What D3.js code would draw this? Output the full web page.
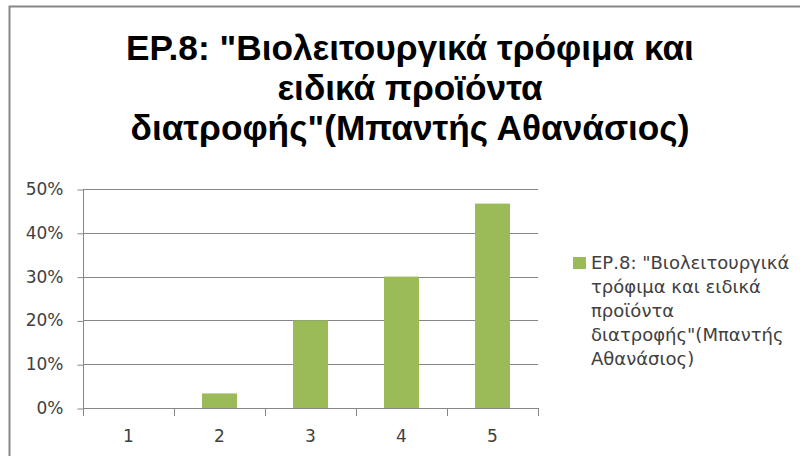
<!DOCTYPE html>
<html><head><meta charset="utf-8">
<script src="https://cdn.jsdelivr.net/npm/d3@7"></script>
<style>body{margin:0;background:#fff}svg{display:block}</style>
</head><body>
<svg id="c" width="800" height="456"></svg>
<script>
const titleLines = ['ΕΡ.8: "Βιολειτουργικά τρόφιμα και', 'ειδικά προϊόντα', 'διατροφής"(Μπαντής Αθανάσιος)'];
const categories = ["1", "2", "3", "4", "5"];
const values = [0, 0.0333, 0.20, 0.30, 0.4667];
const yTicks = [0, 0.1, 0.2, 0.3, 0.4, 0.5];
const legendLines = ['ΕΡ.8: "Βιολειτουργικά', 'τρόφιμα και ειδικά', 'προϊόντα', 'διατροφής"(Μπαντής', 'Αθανάσιος)'];

const svg = d3.select("#c");
const gray = "#868686", green = "#9BBB59";
const labelFont = "DejaVu Sans, sans-serif";

// frame
svg.append("path").attr("d", "M9.5,470V6.5H810").attr("fill", "none").attr("stroke", gray).attr("stroke-width", 2);

// title (font size fitted so the first line spans the reference width)
const title = svg.append("g").selectAll("text").data(titleLines).join("text")
  .attr("x", 410).attr("y", (d, i) => 60 + i * 40)
  .attr("text-anchor", "middle")
  .attr("font-family", "Liberation Sans, Arial, sans-serif").attr("font-weight", "bold")
  .attr("font-size", 30).attr("fill", "#000").text(d => d);
const w0 = title.node().getComputedTextLength();
if (w0 > 0) title.attr("font-size", Math.min(36, 30 * 568 / w0));

const x = d3.scaleBand().domain(categories).range([83, 538]).paddingInner(0.615).paddingOuter(0.3075);
const xb = d3.scaleBand().domain(categories).range([83, 538]);
const y = d3.scaleLinear().domain([0, 0.5]).range([408, 189]);

// gridlines
svg.append("g").selectAll("line").data(yTicks.slice(1)).join("line")
  .attr("x1", 83).attr("x2", 538).attr("y1", d => Math.round(y(d)) + 0.5).attr("y2", d => Math.round(y(d)) + 0.5)
  .attr("stroke", gray).attr("stroke-width", 1);

// bars
svg.append("g").selectAll("rect").data(values).join("rect")
  .attr("x", (d, i) => x(categories[i])).attr("width", x.bandwidth())
  .attr("y", d => y(d)).attr("height", d => y(0) - y(d))
  .attr("fill", green);

// y axis
const yAxis = svg.append("g").attr("transform", "translate(83.5,0)")
  .call(d3.axisLeft(y).tickValues(yTicks).tickFormat(d3.format(".0%")).tickSize(6).tickPadding(14));
yAxis.select(".domain").attr("stroke", gray).attr("d", `M0,${y(0.5)}V${y(0)}`);
yAxis.selectAll(".tick line").attr("stroke", gray).attr("transform", "translate(0,0.5)");
yAxis.selectAll(".tick text").attr("font-family", labelFont).attr("font-size", 17).attr("fill", "#404040");

// x axis
const xAxis = svg.append("g").attr("transform", "translate(0,408.5)")
  .call(d3.axisBottom(xb).tickSize(0).tickPadding(21));
xAxis.select(".domain").attr("stroke", gray).attr("d", "M83,0H538");
xAxis.selectAll(".tick text").attr("font-family", labelFont).attr("font-size", 17).attr("fill", "#404040");
svg.append("g").selectAll("line").data(categories.concat(["end"])).join("line")
  .attr("x1", (d, i) => Math.round(i < categories.length ? xb(d) : xb.range()[1]) + 0.5)
  .attr("x2", (d, i) => Math.round(i < categories.length ? xb(d) : xb.range()[1]) + 0.5)
  .attr("y1", 408).attr("y2", 416).attr("stroke", gray);

// legend
const lg = svg.append("g");
lg.append("rect").attr("x", 573).attr("y", 257).attr("width", 13).attr("height", 12).attr("fill", green);
lg.selectAll("text").data(legendLines).join("text")
  .attr("x", 591).attr("y", (d, i) => 269 + i * 24)
  .attr("font-family", labelFont).attr("font-size", 18).attr("fill", "#404040").text(d => d);
</script>
</body></html>
